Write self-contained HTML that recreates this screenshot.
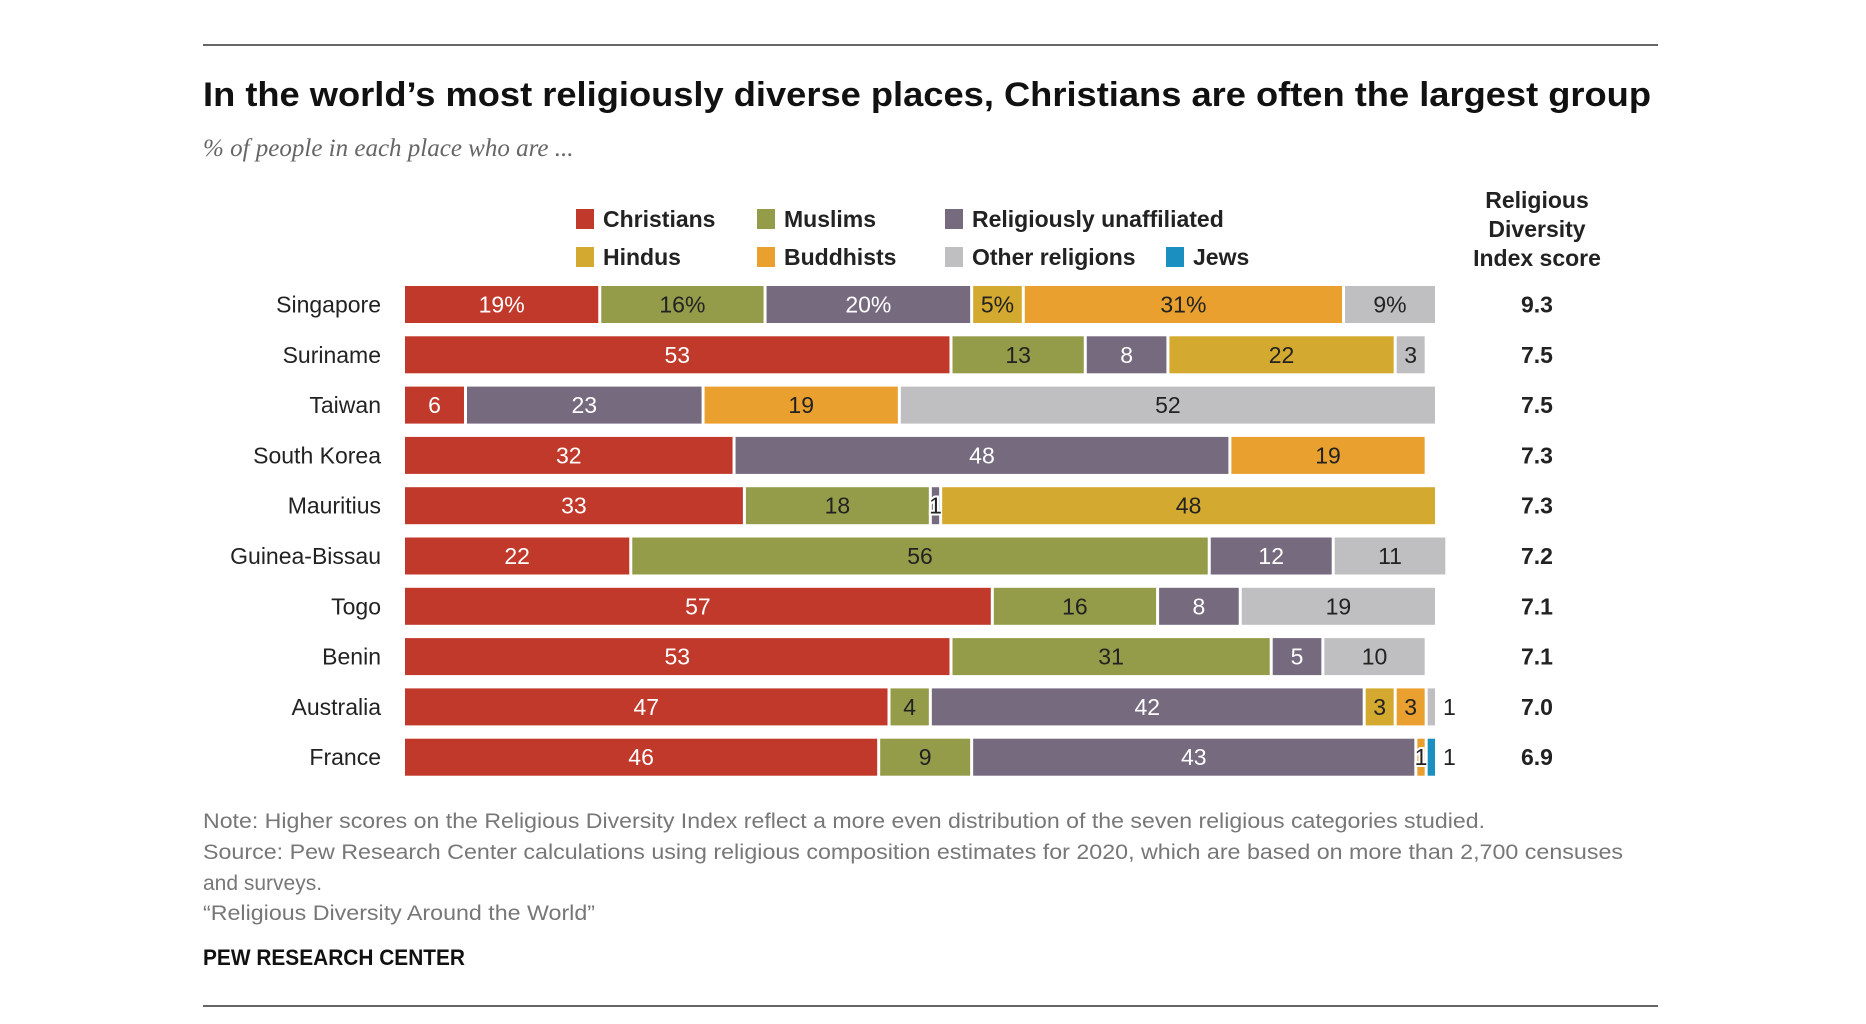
<!DOCTYPE html>
<html><head><meta charset="utf-8"><style>
html,body{margin:0;padding:0;background:#fff;}
svg{display:block;font-family:"Liberation Sans",sans-serif;}
</style></head><body>
<svg id="chart" width="1866" height="1024" viewBox="0 0 1866 1024">
<line x1="203" y1="45" x2="1658" y2="45" stroke="#333" stroke-width="1.5"/>
<text x="203" y="106" font-size="34" font-weight="bold" fill="#111" textLength="1448" lengthAdjust="spacingAndGlyphs">In the world’s most religiously diverse places, Christians are often the largest group</text>
<text x="203" y="156" font-size="25" font-style="italic" fill="#666" font-family="Liberation Serif, serif">% of people in each place who are ...</text>
<g id="legend"></g>
<g font-size="23" font-weight="bold" fill="#222" text-anchor="middle">
<text x="1537" y="208">Religious</text><text x="1537" y="237">Diversity</text><text x="1537" y="266">Index score</text>
</g>
<g id="bars"></g>
<g font-size="21" fill="#777">
<text x="203" y="828" textLength="1282" lengthAdjust="spacingAndGlyphs">Note: Higher scores on the Religious Diversity Index reflect a more even distribution of the seven religious categories studied.</text>
<text x="203" y="859" textLength="1420" lengthAdjust="spacingAndGlyphs">Source: Pew Research Center calculations using religious composition estimates for 2020, which are based on more than 2,700 censuses</text>
<text x="203" y="890">and surveys.</text>
<text x="203" y="920" textLength="392" lengthAdjust="spacingAndGlyphs">“Religious Diversity Around the World”</text>
</g>
<text x="203" y="965" font-size="22" font-weight="bold" fill="#111" textLength="262" lengthAdjust="spacingAndGlyphs">PEW RESEARCH CENTER</text>
<line x1="203" y1="1006" x2="1658" y2="1006" stroke="#333" stroke-width="1.5"/>
</svg>
<script>
const countries = ["Singapore","Suriname","Taiwan","South Korea","Mauritius","Guinea-Bissau","Togo","Benin","Australia","France"];
const scores = ["9.3","7.5","7.5","7.3","7.3","7.2","7.1","7.1","7.0","6.9"];
const christians = [19,53,6,32,33,22,57,53,47,46];
const muslims = [16,13,0,0,18,56,16,31,4,9];
const unaffiliated = [20,8,23,48,1,12,8,5,42,43];
const hindus = [5,22,0,0,48,0,0,0,3,0];
const buddhists = [31,0,19,19,0,0,0,0,3,1];
const otherReligions = [9,3,52,0,0,11,19,10,1,0];
const jews = [0,0,0,0,0,0,0,0,0,1];
const seriesNames = ["Christians","Muslims","Religiously unaffiliated","Hindus","Buddhists","Other religions","Jews"];

const series = [christians,muslims,unaffiliated,hindus,buddhists,otherReligions,jews];
const colors = ["#c0392b","#949c4a","#756a7e","#d3a92f","#e9a02f","#bfbfc1","#1a8fc0"];
const textColors = ["#fff","#222","#fff","#222","#222","#222","#222"];
const NS="http://www.w3.org/2000/svg";
const x0=405, scale=10.33, gap=3, rowY0=286, rowStep=50.3, barH=37;
const xAt = v => x0 + v*scale;
const yAt = i => rowY0 + i*rowStep;
function mk(tag, attrs, parent){const e=document.createElementNS(NS,tag);for(const k in attrs)e.setAttribute(k,attrs[k]);parent.appendChild(e);return e;}

const legend=document.getElementById('legend');
const legPos=[[576,219],[757,219],[945,219],[576,257],[757,257],[945,257],[1166,257]];
seriesNames.forEach((n,i)=>{
  const g=mk('g',{},legend);
  
  
  mk('rect',{x:legPos[i][0],y:legPos[i][1]-10,width:18,height:20,fill:colors[i]},g);
  const t=mk('text',{x:legPos[i][0]+27,y:legPos[i][1]+8,'font-size':23,'font-weight':'bold',fill:'#222'},g);
  t.textContent=n;
});

const bars=document.getElementById('bars');
countries.forEach((c,i)=>{
  const y=yAt(i);
  const row=mk('g',{},bars);
  
  
  const lab=mk('text',{x:381,y:y+barH/2+8,'font-size':23,'text-anchor':'end',fill:'#222'},row);
  
  
  lab.textContent=c;
  const sc=mk('text',{x:1537,y:y+barH/2+8,'font-size':23,'font-weight':'bold','text-anchor':'middle',fill:'#222'},row);
  
  
  sc.textContent=scores[i];
  let lastIdx=-1; series.forEach((s,k)=>{if(s[i]>0)lastIdx=k;});
  let cum=0;
  series.forEach((s,k)=>{
    const v=s[i]; if(!v) return;
    const xs=xAt(cum), w=Math.max(v*scale-gap,3);
    const r=mk('rect',{x:xs,y:y,width:w,height:barH,fill:colors[k]},row);
    
    
    const label = (i===0? v+'%' : ''+v);
    let t;
    if(v<=1 && k===lastIdx){
      t=mk('text',{x:xs+w+8,y:y+barH/2+8,'font-size':23,fill:'#222'},row);
    } else if(v<=1){
      t=mk('text',{x:xs+w/2,y:y+barH/2+8,'font-size':23,'text-anchor':'middle',fill:'#222',stroke:'#fff','stroke-width':4,'paint-order':'stroke'},row);
    } else {
      t=mk('text',{x:xs+w/2,y:y+barH/2+8,'font-size':23,'text-anchor':'middle',fill:textColors[k]},row);
    }
    
    
    t.textContent=label;
    cum+=v;
  });
});
</script>
</body></html>
